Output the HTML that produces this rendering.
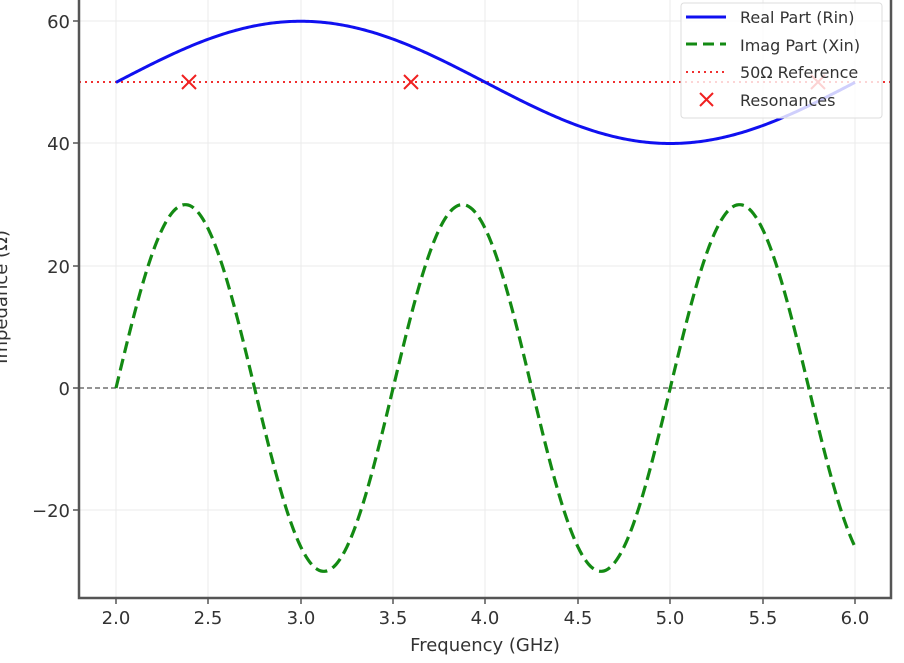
<!DOCTYPE html>
<html><head><meta charset="utf-8"><style>
body{margin:0;background:#fff;width:904px;height:658px;overflow:hidden}
text{font-family:"DejaVu Sans","Liberation Sans",sans-serif;fill:#333}
</style></head><body>
<svg id="s" width="904" height="658" xmlns="http://www.w3.org/2000/svg">
<g stroke="#ebebeb" stroke-width="1">
<line x1="116" y1="0" x2="116" y2="598"/><line x1="208" y1="0" x2="208" y2="598"/><line x1="301" y1="0" x2="301" y2="598"/><line x1="393" y1="0" x2="393" y2="598"/><line x1="485" y1="0" x2="485" y2="598"/><line x1="578" y1="0" x2="578" y2="598"/><line x1="670" y1="0" x2="670" y2="598"/><line x1="763" y1="0" x2="763" y2="598"/><line x1="855" y1="0" x2="855" y2="598"/>
<line x1="79" y1="21" x2="891" y2="21"/><line x1="79" y1="143" x2="891" y2="143"/><line x1="79" y1="266" x2="891" y2="266"/><line x1="79" y1="510" x2="891" y2="510"/>
</g>
<line x1="79" y1="388" x2="891" y2="388" stroke="#555" stroke-width="1.3" stroke-dasharray="5,3"/>
<line x1="79" y1="82" x2="891" y2="82" stroke="#f03030" stroke-width="2" stroke-dasharray="2,4"/>
<polyline id="re" fill="none" stroke="#1010f0" stroke-width="3"/>
<polyline id="im" fill="none" stroke="#138a13" stroke-width="3.2" stroke-dasharray="12,6"/>
<g stroke="#f02020" stroke-width="2">
<path d="M182 75l14 14M196 75l-14 14"/><path d="M404 75l14 14M418 75l-14 14"/><path d="M811 75l14 14M825 75l-14 14"/>
</g>
<g stroke="#555" stroke-width="2.5" fill="none"><path d="M79 0V598H891V0"/></g>
<g stroke="#555" stroke-width="1.5">
<line x1="116" y1="598" x2="116" y2="604"/><line x1="208" y1="598" x2="208" y2="604"/><line x1="301" y1="598" x2="301" y2="604"/><line x1="393" y1="598" x2="393" y2="604"/><line x1="485" y1="598" x2="485" y2="604"/><line x1="578" y1="598" x2="578" y2="604"/><line x1="670" y1="598" x2="670" y2="604"/><line x1="763" y1="598" x2="763" y2="604"/><line x1="855" y1="598" x2="855" y2="604"/>
<line x1="73" y1="21" x2="79" y2="21"/><line x1="73" y1="143" x2="79" y2="143"/><line x1="73" y1="266" x2="79" y2="266"/><line x1="73" y1="388" x2="79" y2="388"/><line x1="73" y1="510" x2="79" y2="510"/>
</g>
<g font-size="18" text-anchor="middle">
<text x="116" y="624">2.0</text><text x="208" y="624">2.5</text><text x="301" y="624">3.0</text><text x="393" y="624">3.5</text><text x="485" y="624">4.0</text><text x="578" y="624">4.5</text><text x="670" y="624">5.0</text><text x="763" y="624">5.5</text><text x="855" y="624">6.0</text>
<text x="485" y="651">Frequency (GHz)</text>
</g>
<g font-size="18" text-anchor="end">
<text x="70" y="28">60</text><text x="70" y="150">40</text><text x="70" y="273">20</text><text x="70" y="395">0</text><text x="70" y="517">−20</text>
</g>
<text font-size="18" text-anchor="middle" transform="translate(7,297) rotate(-90)">Impedance (Ω)</text>
<rect x="681" y="3" width="201" height="115" rx="3" fill="#fff" fill-opacity="0.8" stroke="#ddd"/>
<line x1="686" y1="17" x2="726" y2="17" stroke="#1010f0" stroke-width="3"/>
<line x1="686" y1="44" x2="726" y2="44" stroke="#138a13" stroke-width="3" stroke-dasharray="11,6"/>
<line x1="686" y1="72" x2="726" y2="72" stroke="#f03030" stroke-width="2" stroke-dasharray="2,4"/>
<path d="M700 93l13 13M713 93l-13 13" stroke="#f02020" stroke-width="2"/>
<g font-size="16"><text x="740" y="23">Real Part (Rin)</text><text x="740" y="51">Imag Part (Xin)</text><text x="740" y="78">50Ω Reference</text><text x="740" y="106">Resonances</text></g>
</svg>
<script>
var X=f=>116+(f-2)*184.75,Y=v=>388-v*6.1125,a=[],b=[];
for(var i=0;i<=400;i++){var f=2+i*0.01;a.push(X(f)+","+Y(50+10*Math.sin(Math.PI*(f-2)/2)));b.push(X(f)+","+Y(30*Math.sin(2*Math.PI*(f-2)/1.5)));}
document.getElementById("re").setAttribute("points",a.join(" "));
document.getElementById("im").setAttribute("points",b.join(" "));
</script>
</body></html>
